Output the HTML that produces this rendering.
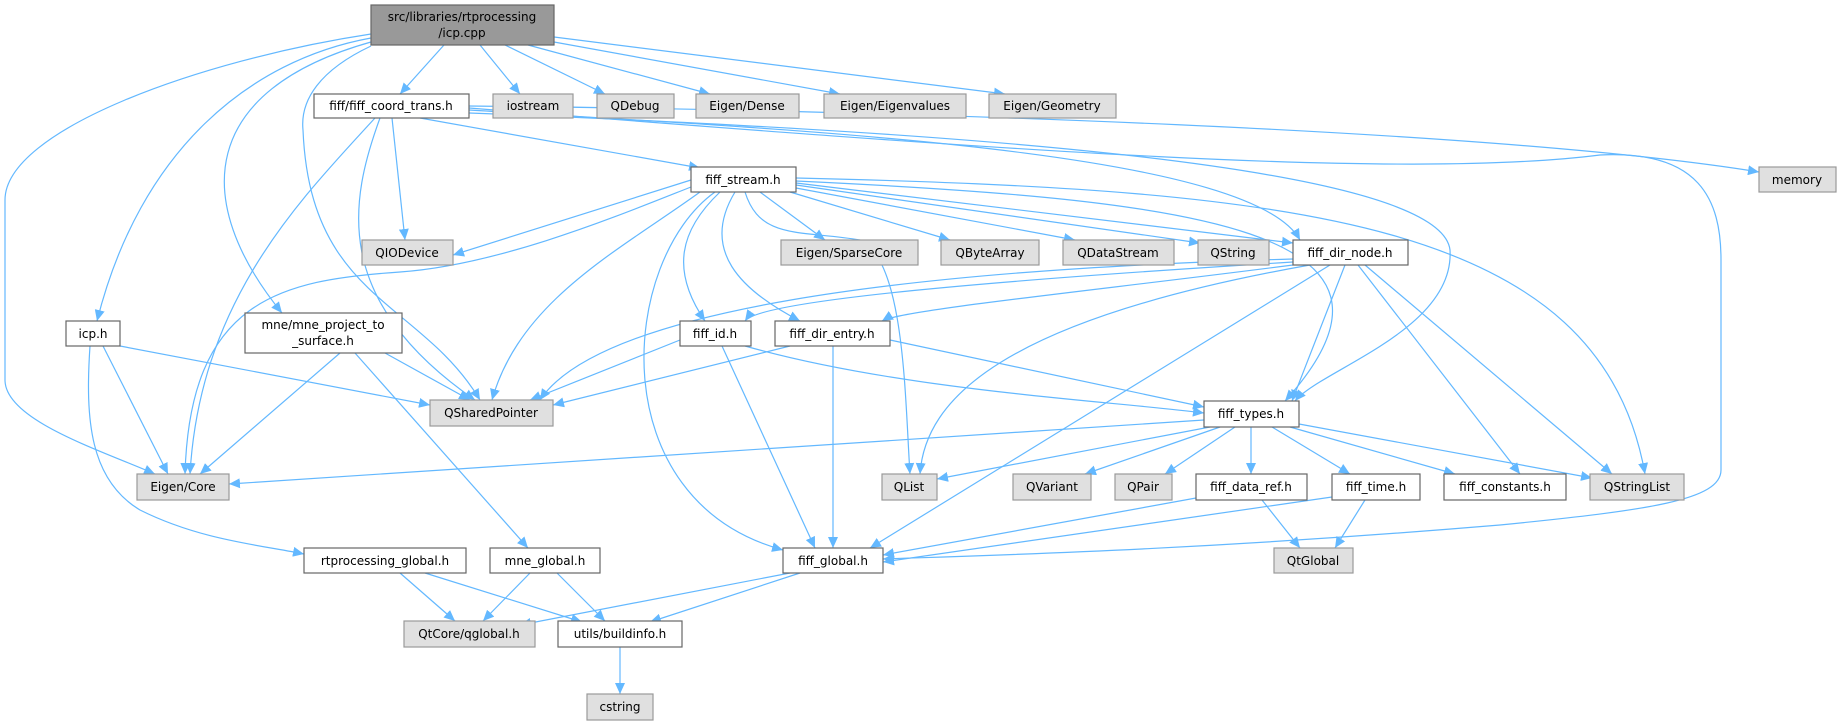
<!DOCTYPE html>
<html><head><meta charset="utf-8">
<style>
html,body{margin:0;padding:0;background:#fff;}
svg{display:block;}
text{font-family:"DejaVu Sans","Liberation Sans",sans-serif;font-size:12px;fill:#000;}
.g{fill:#e0e0e0;stroke:#999;stroke-width:1.2;}
.w{fill:#fff;stroke:#666;stroke-width:1.2;}
.r{fill:#999;stroke:#666;stroke-width:1.2;}
path.e{fill:none;stroke:#63b8ff;stroke-width:1.2;marker-end:url(#a);}
</style></head><body>
<svg width="1841" height="725" viewBox="0 0 1841 725" xmlns="http://www.w3.org/2000/svg">
<defs><marker id="a" markerUnits="userSpaceOnUse" markerWidth="12" markerHeight="10" refX="11" refY="5" orient="auto"><path d="M0,0 L11,5 L0,10 z" fill="#63b8ff"/></marker></defs>
<g>
<path class="e" d="M444,45 L400,94"/>
<path class="e" d="M480,45 L520,94"/>
<path class="e" d="M505,45 L605,94"/>
<path class="e" d="M528,45 L710,94"/>
<path class="e" d="M554,42 L840,94"/>
<path class="e" d="M554,37 L1005,94"/>
<path class="e" d="M371,38 C250,60 140,150 97,321"/>
<path class="e" d="M371,42 C200,90 190,200 282,313"/>
<path class="e" d="M371,34 C200,60 5,130 5,200 L5,380 C5,420 100,450 155,474"/>
<path class="e" d="M371,46 C320,70 300,100 303,130 C310,300 420,300 480,400"/>
<path class="e" d="M420,118 L700,168"/>
<path class="e" d="M469,110 C800,130 1250,150 1300,240"/>
<path class="e" d="M469,113 C900,130 1440,160 1450,250 C1455,330 1320,370 1295,401"/>
<path class="e" d="M469,106 C900,110 1500,130 1759,172"/>
<path class="e" d="M469,108 C1000,150 1400,180 1600,155 C1700,150 1721,200 1721,260 L1721,470 C1721,500 1650,510 1500,525 C1200,550 1000,555 883,559"/>
<path class="e" d="M392,118 L405,240"/>
<path class="e" d="M380,118 C350,200 330,300 475,400"/>
<path class="e" d="M375,118 C300,200 200,300 190,474"/>
<path class="e" d="M691,180 L453,255"/>
<path class="e" d="M760,192 L825,240"/>
<path class="e" d="M790,192 L950,240"/>
<path class="e" d="M796,188 L1075,240"/>
<path class="e" d="M796,185 L1200,243"/>
<path class="e" d="M796,183 L1293,243"/>
<path class="e" d="M796,178 C1300,190 1600,220 1645,474"/>
<path class="e" d="M796,181 C1200,200 1440,230 1285,401"/>
<path class="e" d="M745,192 C760,240 800,230 860,240 C905,260 905,400 910,474"/>
<path class="e" d="M720,192 C680,230 670,270 705,321"/>
<path class="e" d="M735,192 C700,250 740,290 800,321"/>
<path class="e" d="M715,192 C620,260 600,500 783,550"/>
<path class="e" d="M700,192 C620,250 520,300 492,400"/>
<path class="e" d="M691,187 C620,215 500,265 400,272 C280,280 190,300 185,474"/>
<path class="e" d="M1293,262 C1000,280 760,300 745,321"/>
<path class="e" d="M1293,265 C1100,290 900,310 882,321"/>
<path class="e" d="M1293,259 C900,270 600,310 540,400"/>
<path class="e" d="M1310,265 C1000,320 925,400 920,474"/>
<path class="e" d="M1330,265 L870,548"/>
<path class="e" d="M1345,265 L1292,401"/>
<path class="e" d="M1358,265 L1520,474"/>
<path class="e" d="M1365,265 L1612,474"/>
<path class="e" d="M680,340 L530,400"/>
<path class="e" d="M722,346 L815,548"/>
<path class="e" d="M745,346 C900,390 1100,400 1204,413"/>
<path class="e" d="M790,346 L553,405"/>
<path class="e" d="M833,346 L833,548"/>
<path class="e" d="M890,340 L1204,407"/>
<path class="e" d="M1204,420 L229,484"/>
<path class="e" d="M1210,427 L937,479"/>
<path class="e" d="M1220,427 L1085,474"/>
<path class="e" d="M1235,427 L1165,474"/>
<path class="e" d="M1251,427 L1251,474"/>
<path class="e" d="M1272,427 L1350,474"/>
<path class="e" d="M1290,427 L1455,474"/>
<path class="e" d="M1299,424 L1592,478"/>
<path class="e" d="M1196,498 L883,555"/>
<path class="e" d="M1262,500 L1300,548"/>
<path class="e" d="M1332,497 L883,562"/>
<path class="e" d="M1365,500 L1335,548"/>
<path class="e" d="M790,573 L520,625"/>
<path class="e" d="M800,573 L650,622"/>
<path class="e" d="M120,346 L430,405"/>
<path class="e" d="M103,346 L168,474"/>
<path class="e" d="M90,346 C85,420 90,480 140,510 C200,540 260,545 304,554"/>
<path class="e" d="M385,353 L470,400"/>
<path class="e" d="M340,353 L200,474"/>
<path class="e" d="M355,353 L528,548"/>
<path class="e" d="M400,573 L455,621"/>
<path class="e" d="M425,573 L582,622"/>
<path class="e" d="M530,573 L483,621"/>
<path class="e" d="M557,573 L605,621"/>
<path class="e" d="M620,647 L620,694"/>
</g>
<g text-anchor="middle">
<rect class="r" x="371" y="5" width="183" height="40"/><text x="462" y="21">src/libraries/rtprocessing</text><text x="462" y="37">/icp.cpp</text>
<rect class="w" x="314" y="94" width="155" height="24"/><text x="391" y="110">fiff/fiff_coord_trans.h</text>
<rect class="g" x="493" y="94" width="80" height="24"/><text x="533" y="110">iostream</text>
<rect class="g" x="597" y="94" width="77" height="24"/><text x="635" y="110">QDebug</text>
<rect class="g" x="696" y="94" width="103" height="24"/><text x="747" y="110">Eigen/Dense</text>
<rect class="g" x="824" y="94" width="142" height="24"/><text x="895" y="110">Eigen/Eigenvalues</text>
<rect class="g" x="989" y="94" width="127" height="24"/><text x="1052" y="110">Eigen/Geometry</text>
<rect class="g" x="1759" y="167" width="77" height="25"/><text x="1797" y="184">memory</text>
<rect class="w" x="691" y="167" width="105" height="25"/><text x="743" y="184">fiff_stream.h</text>
<rect class="g" x="362" y="240" width="91" height="25"/><text x="407" y="257">QIODevice</text>
<rect class="g" x="781" y="240" width="137" height="25"/><text x="849" y="257">Eigen/SparseCore</text>
<rect class="g" x="941" y="240" width="98" height="25"/><text x="990" y="257">QByteArray</text>
<rect class="g" x="1063" y="240" width="111" height="25"/><text x="1118" y="257">QDataStream</text>
<rect class="g" x="1198" y="240" width="71" height="25"/><text x="1233" y="257">QString</text>
<rect class="w" x="1293" y="240" width="115" height="25"/><text x="1350" y="257">fiff_dir_node.h</text>
<rect class="w" x="66" y="321" width="54" height="25"/><text x="93" y="338">icp.h</text>
<rect class="w" x="245" y="313" width="157" height="40"/><text x="323" y="329">mne/mne_project_to</text><text x="323" y="345">_surface.h</text>
<rect class="w" x="680" y="321" width="71" height="25"/><text x="715" y="338">fiff_id.h</text>
<rect class="w" x="775" y="321" width="115" height="25"/><text x="832" y="338">fiff_dir_entry.h</text>
<rect class="g" x="430" y="400" width="123" height="26"/><text x="491" y="417">QSharedPointer</text>
<rect class="w" x="1204" y="401" width="95" height="26"/><text x="1251" y="418">fiff_types.h</text>
<rect class="g" x="137" y="474" width="92" height="26"/><text x="183" y="491">Eigen/Core</text>
<rect class="g" x="882" y="474" width="55" height="26"/><text x="909" y="491">QList</text>
<rect class="g" x="1013" y="474" width="78" height="26"/><text x="1052" y="491">QVariant</text>
<rect class="g" x="1115" y="474" width="57" height="26"/><text x="1143" y="491">QPair</text>
<rect class="w" x="1196" y="474" width="111" height="26"/><text x="1251" y="491">fiff_data_ref.h</text>
<rect class="w" x="1332" y="474" width="88" height="26"/><text x="1376" y="491">fiff_time.h</text>
<rect class="w" x="1444" y="474" width="122" height="26"/><text x="1505" y="491">fiff_constants.h</text>
<rect class="g" x="1590" y="474" width="94" height="26"/><text x="1637" y="491">QStringList</text>
<rect class="g" x="1274" y="548" width="79" height="25"/><text x="1313" y="565">QtGlobal</text>
<rect class="w" x="304" y="548" width="162" height="25"/><text x="385" y="565">rtprocessing_global.h</text>
<rect class="w" x="490" y="548" width="110" height="25"/><text x="545" y="565">mne_global.h</text>
<rect class="w" x="783" y="548" width="100" height="25"/><text x="833" y="565">fiff_global.h</text>
<rect class="g" x="404" y="621" width="131" height="26"/><text x="469" y="638">QtCore/qglobal.h</text>
<rect class="w" x="558" y="621" width="124" height="26"/><text x="620" y="638">utils/buildinfo.h</text>
<rect class="g" x="587" y="694" width="66" height="26"/><text x="620" y="711">cstring</text>
</g>
</svg>
</body></html>
